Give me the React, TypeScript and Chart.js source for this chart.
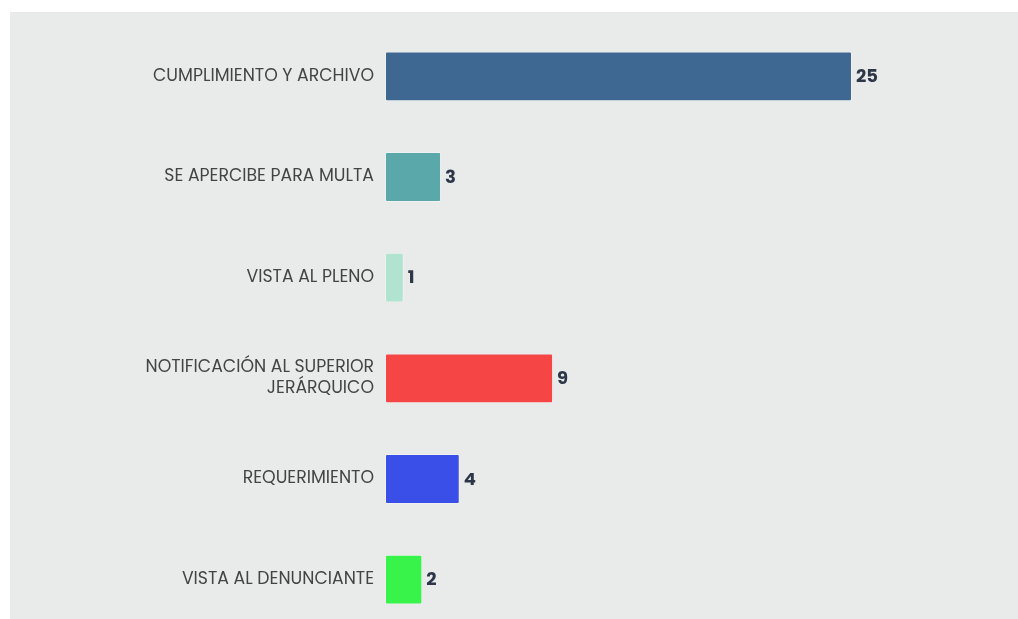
import React, { useEffect, useRef } from "react";
import { Chart, registerables } from "chart.js";

Chart.register(...registerables);

const categories: (string | string[])[] = [
  "CUMPLIMIENTO Y ARCHIVO",
  "SE APERCIBE PARA MULTA",
  "VISTA AL PLENO",
  ["NOTIFICACIÓN AL SUPERIOR", "JERÁRQUICO"],
  "REQUERIMIENTO",
  "VISTA AL DENUNCIANTE",
];
const values: number[] = [25, 3, 1, 9, 4, 2];
const barColors: string[] = ["#3e6891", "#5ba8ab", "#b0e3d0", "#f54545", "#3a4fe8", "#38f44a"];

const FONT = "Poppins, Lato, 'Open Sans', sans-serif";

const valueLabels = {
  id: "valueLabels",
  afterDatasetsDraw(chart: any) {
    const ctx = chart.ctx;
    const meta = chart.getDatasetMeta(0);
    ctx.save();
    ctx.font = `700 18px ${FONT}`;
    ctx.fillStyle = "#2d3748";
    ctx.textAlign = "left";
    ctx.textBaseline = "middle";
    meta.data.forEach((bar: any, i: number) => {
      ctx.fillText(String(values[i]), bar.x + 4, bar.y + 1);
    });
    ctx.restore();
  },
};

export default function App() {
  const ref = useRef<HTMLCanvasElement>(null);
  useEffect(() => {
    if (!ref.current) return;
    const chart = new Chart(ref.current, {
      type: "bar",
      data: {
        labels: categories,
        datasets: [
          {
            data: values,
            backgroundColor: barColors,
            borderColor: barColors.map(() => "rgba(255,255,255,0.35)"),
            borderWidth: 1,
            borderRadius: 2,
            borderSkipped: false,
            categoryPercentage: 1,
            barPercentage: 0.495,
          },
        ],
      },
      options: {
        indexAxis: "y",
        animation: false,
        responsive: false,
        maintainAspectRatio: false,
        layout: { padding: { top: 14, bottom: 12, left: 0, right: 166 } },
        plugins: { legend: { display: false }, tooltip: { enabled: false } },
        scales: {
          x: { display: false, min: 0, max: 25 },
          y: {
            grid: { display: false, drawTicks: false },
            border: { display: false },
            ticks: {
              color: "#444444",
              padding: 11,
              font: { family: FONT, size: 17.3 },
            },
            afterFit(scale: any) {
              scale.width = 375;
              scale.paddingTop = 0;
              scale.paddingBottom = 0;
            },
          },
        },
      },
      plugins: [valueLabels],
    });
    return () => chart.destroy();
  }, []);
  return (
    <div
      style={{
        position: "fixed",
        left: 10,
        top: 12,
        width: 1008,
        height: 607,
        overflow: "hidden",
        background: "#e9ebea",
      }}
    >
      <canvas ref={ref} width={1008} height={630} style={{ display: "block" }} />
    </div>
  );
}
